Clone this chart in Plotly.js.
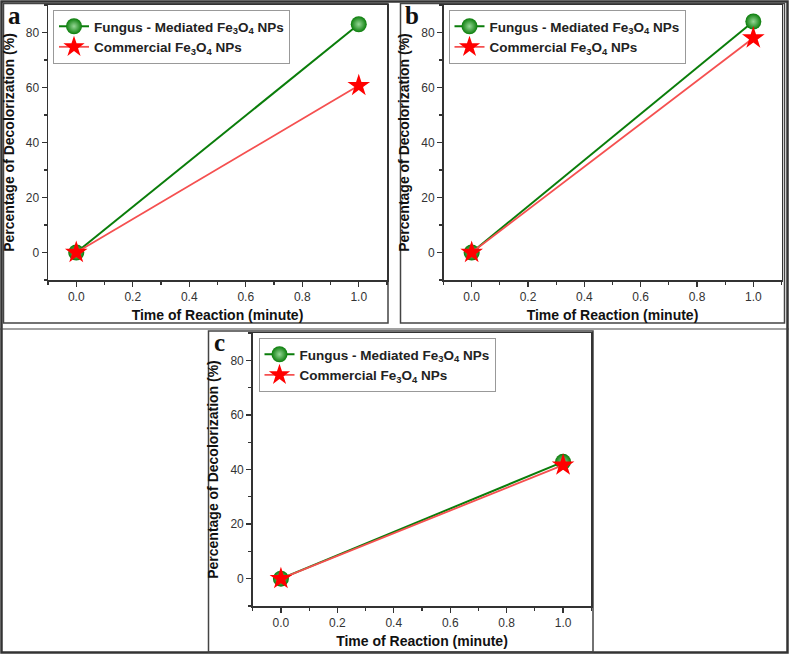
<!DOCTYPE html>
<html>
<head>
<meta charset="utf-8">
<script src="https://cdn.plot.ly/plotly-3.0.1.min.js"></script>
<style>
body { margin: 0; background: #fff; }
#chart { width: 789px; height: 654px; }
</style>
</head>
<body>
<div id="chart"></div>
<script>
// values
var time = [0, 1];
var fungusA = [0, 83];
var commercialA = [0, 60.7];
var fungusB = [0, 84];
var commercialB = [0, 78];
var fungusC = [0, 42.8];
var commercialC = [0, 41.6];

var panelLabels = ['a', 'b', 'c'];
var xTickVals = [0, 0.2, 0.4, 0.6, 0.8, 1.0];
var xTickText = ['0.0', '0.2', '0.4', '0.6', '0.8', '1.0'];
var yTickVals = [0, 20, 40, 60, 80];
var yTickText = ['0', '20', '40', '60', '80'];
var nameFungus = 'Fungus - Mediated Fe<sub>3</sub>O<sub>4</sub> NPs';
var nameCommercial = 'Commercial Fe<sub>3</sub>O<sub>4</sub> NPs';
var xTitle = 'Time of Reaction (minute)';
var yTitle = 'Percentage of Decolorization (%)';

var W = 789, H = 654;
function px(x) { return x / W; }
function py(y) { return 1 - y / H; }

var sans = 'Liberation Sans, Arial, sans-serif';
var green = 'rgb(10,125,10)';
var red = 'rgb(255,0,0)';

function fungusTrace(y, n) {
  return {
    x: time, y: y, name: nameFungus, type: 'scatter', mode: 'lines+markers',
    xaxis: 'x' + n, yaxis: 'y' + n, legend: 'legend' + n,
    line: {color: green, width: 2},
    marker: {symbol: 'circle', size: 16, color: green,
      gradient: {type: 'radial', color: 'rgb(150,215,150)'}}
  };
}
function commercialTrace(y, n) {
  return {
    x: time, y: y, name: nameCommercial, type: 'scatter', mode: 'lines+markers',
    xaxis: 'x' + n, yaxis: 'y' + n, legend: 'legend' + n,
    line: {color: 'rgb(245,80,80)', width: 1.8},
    marker: {symbol: 'star', size: 17, color: red, line: {width: 0}}
  };
}

var data = [
  fungusTrace(fungusA, ''), commercialTrace(commercialA, ''),
  fungusTrace(fungusB, '2'), commercialTrace(commercialB, '2'),
  fungusTrace(fungusC, '3'), commercialTrace(commercialC, '3')
];

function xAxis(d0, d1, anchor) {
  return {
    domain: [d0, d1], anchor: anchor, range: [-0.1, 1.1],
    tickvals: xTickVals, ticktext: xTickText,
    ticks: 'outside', ticklen: 5, tickwidth: 1.2, tickcolor: '#333',
    showline: true, linecolor: '#333', linewidth: 1.5, mirror: true,
    showgrid: false, zeroline: false,
    tickfont: {family: sans, size: 12, color: '#333'},
    minor: {dtick: 0.1, tick0: 0, ticks: 'outside', ticklen: 3, tickcolor: '#333', showgrid: false},
    title: {text: xTitle, standoff: 7, font: {family: sans, size: 14, weight: 'bold', color: '#111'}}
  };
}
function yAxis(d0, d1, anchor) {
  return {
    domain: [d0, d1], anchor: anchor, range: [-10, 90],
    tickvals: yTickVals, ticktext: yTickText,
    ticks: 'outside', ticklen: 5, tickwidth: 1.2, tickcolor: '#333',
    showline: true, linecolor: '#333', linewidth: 1.5, mirror: true,
    showgrid: false, zeroline: false,
    tickfont: {family: sans, size: 12, color: '#333'},
    minor: {dtick: 10, tick0: 0, ticks: 'outside', ticklen: 3, tickcolor: '#333', showgrid: false},
    title: {text: yTitle, standoff: 8, font: {family: sans, size: 14, weight: 'bold', color: '#111'}}
  };
}
function legendAt(x, y) {
  return {
    x: px(x), y: py(y), xanchor: 'left', yanchor: 'top',
    bgcolor: '#fff', bordercolor: '#999', borderwidth: 1,
    font: {family: sans, size: 13.5, weight: 'bold', color: '#222'},
    itemwidth: 30, tracegroupgap: 0
  };
}
function box(x0, y0, x1, y1, w, c) {
  return {type: 'rect', xref: 'paper', yref: 'paper',
    x0: px(x0), y0: py(y1), x1: px(x1), y1: py(y0),
    line: {color: c, width: w}, fillcolor: 'rgba(0,0,0,0)', layer: 'below'};
}
function label(t, x, y) {
  return {text: '<b>' + t + '</b>', xref: 'paper', yref: 'paper', x: px(x), y: py(y),
    xanchor: 'center', yanchor: 'top', showarrow: false, borderpad: 0,
    font: {family: 'Liberation Serif, Times New Roman, serif', size: 25, color: '#111'}};
}

var layout = {
  width: W, height: H,
  margin: {l: 0, r: 0, t: 0, b: 0},
  paper_bgcolor: '#fff', plot_bgcolor: '#fff',
  showlegend: true,
  xaxis: xAxis(px(48), px(387), 'y'),
  yaxis: yAxis(py(280), py(5), 'x'),
  xaxis2: xAxis(px(443.5), px(781.5), 'y2'),
  yaxis2: yAxis(py(280), py(5), 'x2'),
  xaxis3: xAxis(px(252.7), px(591.3), 'y3'),
  yaxis3: yAxis(py(606), py(333), 'x3'),
  legend: legendAt(53, 10),
  legend2: legendAt(448.5, 10),
  legend3: legendAt(258.5, 338),
  shapes: [
    box(1.5, 1.5, 787.5, 652.5, 2.5, '#333'),
    box(3.5, 3.5, 388, 323, 1.5, '#444'),
    box(400.5, 3.5, 784.5, 323, 1.5, '#444'),
    box(208.5, 331, 593, 652, 1.5, '#444'),
    {type: 'line', xref: 'paper', yref: 'paper', x0: 0, x1: 1, y0: py(329), y1: py(329),
      line: {color: '#444', width: 1.2}, layer: 'below'}
  ],
  annotations: [
    label(panelLabels[0], 14.5, 1),
    label(panelLabels[1], 411.5, 1),
    label(panelLabels[2], 219, 328)
  ]
};

var config = {responsive: false, displayModeBar: false, staticPlot: true};
Plotly.newPlot('chart', data, layout, config);
</script>
</body>
</html>
